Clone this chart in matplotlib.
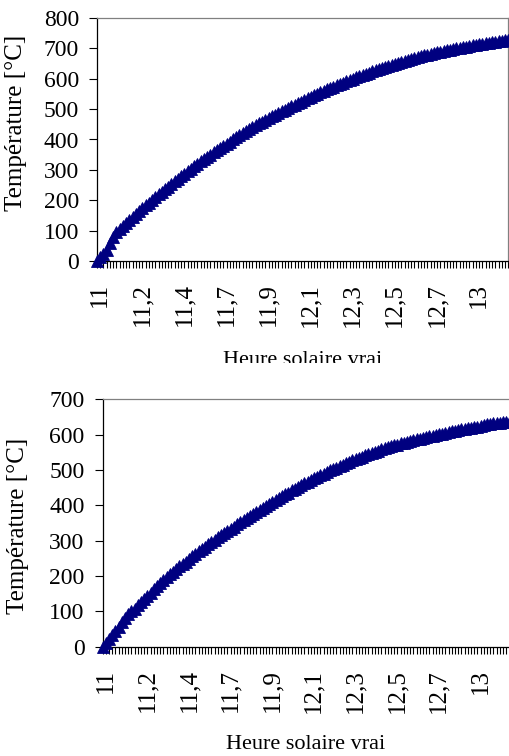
import matplotlib
matplotlib.use("Agg")
import matplotlib.pyplot as plt
import numpy as np
from matplotlib.transforms import Bbox, TransformedBbox, ScaledTranslation

plt.rcParams["font.family"] = ["Liberation Serif", "DejaVu Serif"]

# étiquettes de l'axe des heures (une toutes les 13 minutes)
heures_labels = ["11", "11,2", "11,4", "11,7", "11,9", "12,1", "12,3", "12,5", "12,7", "13"]
pas_labels = 13

# température relevée chaque minute à partir de 11h00
temp_haut = [
    0, 12, 24, 36, 58, 80, 95, 105, 115, 125, 135,
    145, 155, 164, 174, 183, 192, 201, 210, 219, 228,
    237, 245, 254, 262, 271, 279, 288, 296, 304, 312,
    320, 328, 335, 343, 350, 358, 365, 372, 379, 386,
    393, 400, 407, 414, 421, 427, 434, 440, 447, 453,
    459, 465, 471, 476, 482, 487, 493, 498, 504, 509,
    514, 519, 524, 530, 535, 540, 545, 550, 555, 560,
    565, 569, 574, 578, 583, 587, 592, 596, 600, 605,
    609, 613, 617, 620, 624, 628, 632, 635, 639, 643,
    646, 649, 652, 655, 659, 662, 665, 668, 671, 674,
    677, 679, 682, 684, 687, 689, 692, 694, 696, 698,
    700, 702, 704, 706, 708, 710, 712, 713, 715, 717,
    718, 720, 721, 723, 724, 726, 727,
]
temp_bas = [
    0, 11, 22, 33, 45, 57, 69, 81, 92, 100, 108,
    117, 126, 135, 144, 153, 162, 171, 180, 189, 197,
    205, 212, 220, 227, 234, 241, 249, 256, 263, 270,
    277, 283, 290, 296, 302, 309, 315, 321, 328, 334,
    340, 346, 352, 358, 364, 369, 375, 381, 387, 393,
    398, 404, 409, 415, 420, 425, 431, 436, 442, 447,
    452, 457, 462, 466, 471, 476, 481, 486, 490, 495,
    499, 503, 507, 511, 515, 519, 523, 527, 531, 535,
    538, 542, 545, 548, 552, 555, 558, 561, 564, 567,
    570, 572, 575, 577, 580, 582, 585, 587, 589, 591,
    593, 595, 597, 599, 601, 603, 605, 607, 609, 611,
    613, 615, 616, 618, 620, 622, 623, 625, 627, 629,
    630, 632, 633, 634, 636, 637, 638,
]

W, H = 509, 756
fig = plt.figure(figsize=(W / 100, H / 100), dpi=100)
decale = ScaledTranslation(3 / 100, 0, fig.dpi_scale_trans)


def graphe(rect, temps, ymax, ylab_pos, xlab_y):
    ax = fig.add_axes(rect)
    x = np.arange(len(temps))
    ax.plot(x, temps, color="#000080", lw=1.2, marker="^", markersize=8,
            mfc="#000080", mec="#000080", mew=0.6, clip_on=False, zorder=3)
    ax.set_xlim(0, len(temps) - 1)
    ax.set_ylim(0, ymax)
    ax.set_yticks(range(0, ymax + 1, 100))
    ax.set_xticks(x[::pas_labels][:len(heures_labels)])
    ax.set_xticklabels(heures_labels, rotation=90)
    ax.set_xticks(x, minor=True)
    ax.tick_params(axis="x", which="both", direction="out", length=5, width=0.8,
                   labelsize=18, pad=11)
    ax.tick_params(axis="y", direction="out", length=6, width=0.8, labelsize=17, pad=7)
    for lab in ax.get_xticklabels():
        lab.set_transform(lab.get_transform() + decale)
    for s in ("left", "bottom"):
        ax.spines[s].set_color("black")
        ax.spines[s].set_linewidth(0.9)
    for s in ("top", "right"):
        ax.spines[s].set_color("#808080")
        ax.spines[s].set_linewidth(0.9)
    ax.set_ylabel("Température [°C]", fontsize=18)
    ax.yaxis.set_label_coords(*ylab_pos)
    ax.set_xlabel("Heure solaire vrai", fontsize=16)
    ax.xaxis.set_label_coords(0.5, xlab_y)
    return ax


ax1 = graphe([97 / W, 1 - 261 / H, 411.3 / W, 243 / H], temp_haut, 800, (-0.17, 0.57), -0.372)
ax2 = graphe([102.5 / W, 1 - 646.7 / H, 407 / W, 247.4 / H], temp_bas, 700, (-0.18, 0.49), -0.355)

# le titre de l'axe du haut est coupé par le bas de la zone du graphique
coupe = TransformedBbox(Bbox([[0, 1 - 363 / H], [1, 1]]), fig.transFigure)
ax1.xaxis.label.set_clip_box(coupe)
ax1.xaxis.label.set_clip_on(True)

plt.savefig("out.png", dpi=100)
